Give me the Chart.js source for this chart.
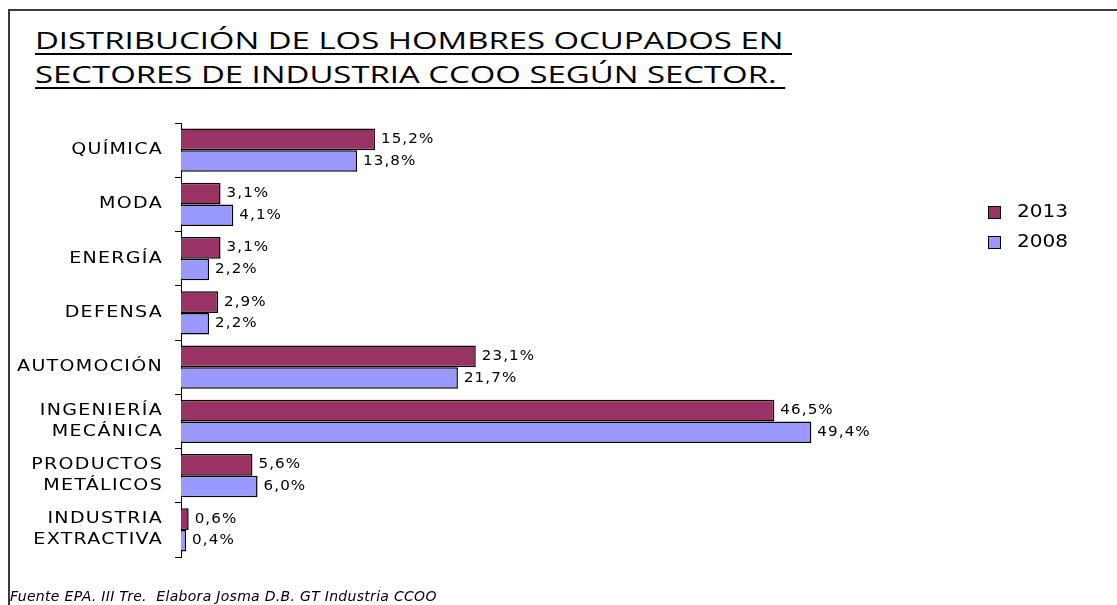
<!DOCTYPE html>
<html>
<head>
<meta charset="utf-8">
<script src="https://cdn.jsdelivr.net/npm/chart.js@4.4.0/dist/chart.umd.min.js"></script>
<style>
  html, body { margin: 0; padding: 0; background: #fff; }
  #wrap { position: relative; width: 1117px; height: 605px; overflow: hidden; }
  #frame { position: absolute; left: 8px; top: 9px; right: -10px; bottom: -10px;
           border-left: 2px solid #3a3a3a; border-top: 2px solid #3a3a3a; }
  #title { position: absolute; left: 35px; top: 23px; font-family: "Open Sans", sans-serif;
           font-weight: 400; font-size: 24px; line-height: 34px; color: #000; text-decoration: underline;
           text-decoration-thickness: 1.5px; text-underline-offset: 4px; white-space: pre;
           transform-origin: 0 0; }
  #foot { position: absolute; left: 10px; top: 588px; font-family: "DejaVu Sans", sans-serif;
          font-style: italic; font-size: 14px; letter-spacing: 0.3px; color: #000; white-space: pre; }
  canvas { position: absolute; left: 0; top: 0; }
</style>
</head>
<body>
<div id="wrap">
  <div id="frame"></div>
  <div id="title">DISTRIBUCIÓN DE LOS HOMBRES OCUPADOS EN 
SECTORES DE INDUSTRIA CCOO SEGÚN SECTOR. </div>
  <canvas id="chart" width="1117" height="605"></canvas>
  <div id="foot">Fuente EPA. III Tre.  Elabora Josma D.B. GT Industria CCOO</div>
</div>
<script>
const sectores = [
  ["QUÍMICA"], ["MODA"], ["ENERGÍA"], ["DEFENSA"], ["AUTOMOCIÓN"],
  ["INGENIERÍA", "MECÁNICA"], ["PRODUCTOS", "METÁLICOS"], ["INDUSTRIA", "EXTRACTIVA"]
];
const valores2013 = [15.2, 3.1, 3.1, 2.9, 23.1, 46.5, 5.6, 0.6];
const valores2008 = [13.8, 4.1, 2.2, 2.2, 21.7, 49.4, 6.0, 0.4];
const series = ["2013", "2008"];

const fmt = v => v.toFixed(1).replace('.', ',') + '%';

// the original picture is stretched sideways, so text is drawn wider
function wideText(ctx, txt, x, y, sx, align) {
  ctx.save();
  ctx.translate(x, y);
  ctx.scale(sx, 1);
  ctx.textAlign = align;
  ctx.fillText(txt, 0, 0);
  ctx.restore();
}

const catLabels = {
  id: 'catLabels',
  afterDraw(chart) {
    const ctx = chart.ctx, sc = chart.scales.y;
    ctx.save();
    ctx.font = '15px "DejaVu Sans", sans-serif';
    ctx.letterSpacing = '1px';
    ctx.fillStyle = '#000';
    ctx.textBaseline = 'middle';
    chart.data.labels.forEach((lines, i) => {
      const yc = sc.getPixelForValue(i);
      lines.forEach((t, k) => {
        const y = yc + (k - (lines.length - 1) / 2) * 21;
        wideText(ctx, t, 163, y, 1.27, 'right');
      });
    });
    ctx.restore();
  }
};

const barLabels = {
  id: 'barLabels',
  afterDatasetsDraw(chart) {
    const ctx = chart.ctx;
    ctx.save();
    ctx.font = '14px "DejaVu Sans", sans-serif';
    ctx.letterSpacing = '1px';
    ctx.fillStyle = '#000';
    ctx.textBaseline = 'middle';
    chart.data.datasets.forEach((ds, i) => {
      chart.getDatasetMeta(i).data.forEach((bar, j) => {
        wideText(ctx, fmt(ds.data[j]), bar.x + 6, bar.y, 1.08, 'left');
      });
    });
    ctx.restore();
  }
};

const sideLegend = {
  id: 'sideLegend',
  afterDraw(chart) {
    const ctx = chart.ctx;
    ctx.save();
    ctx.font = '17px "DejaVu Sans", sans-serif';
    ctx.textBaseline = 'middle';
    chart.data.datasets.forEach((ds, i) => {
      const y = 212 + i * 30;
      ctx.fillStyle = ds.backgroundColor;
      ctx.fillRect(988, y - 6, 12, 12);
      ctx.strokeStyle = '#000';
      ctx.lineWidth = 1;
      ctx.strokeRect(988.5, y - 5.5, 12, 12);
      ctx.fillStyle = '#000';
      wideText(ctx, ds.label, 1017, y + 1, 1.18, 'left');
    });
    ctx.restore();
  }
};

new Chart(document.getElementById('chart'), {
  type: 'bar',
  data: {
    labels: sectores,
    datasets: [
      { label: series[0], data: valores2013, backgroundColor: '#993366', borderColor: '#000', borderWidth: 1.5,
        categoryPercentage: 0.8, barPercentage: 1.0 },
      { label: series[1], data: valores2008, backgroundColor: '#9999FF', borderColor: '#000', borderWidth: 1.5,
        categoryPercentage: 0.8, barPercentage: 1.0 }
    ]
  },
  options: {
    indexAxis: 'y',
    responsive: false,
    animation: false,
    layout: { padding: { left: 0, top: 123, bottom: 48, right: 298 } },
    plugins: { legend: { display: false }, tooltip: { enabled: false } },
    scales: {
      x: { display: false, min: 0, max: 50 },
      y: {
        afterFit: s => { s.width = 181; },
        border: { color: '#000', width: 1 },
        grid: { drawOnChartArea: false, color: '#000', tickLength: 6 },
        ticks: { color: 'rgba(0,0,0,0)', font: { size: 13 } }
      }
    }
  },
  plugins: [barLabels, catLabels, sideLegend]
});

// stretch the title to the width it has in the original
const title = document.getElementById('title');
const mctx = document.createElement('canvas').getContext('2d');
mctx.font = '400 24px "Open Sans"';
const w = mctx.measureText('DISTRIBUCIÓN DE LOS HOMBRES OCUPADOS EN ').width;
title.style.transform = 'scaleX(' + (757 / w) + ')';
</script>
</body>
</html>
